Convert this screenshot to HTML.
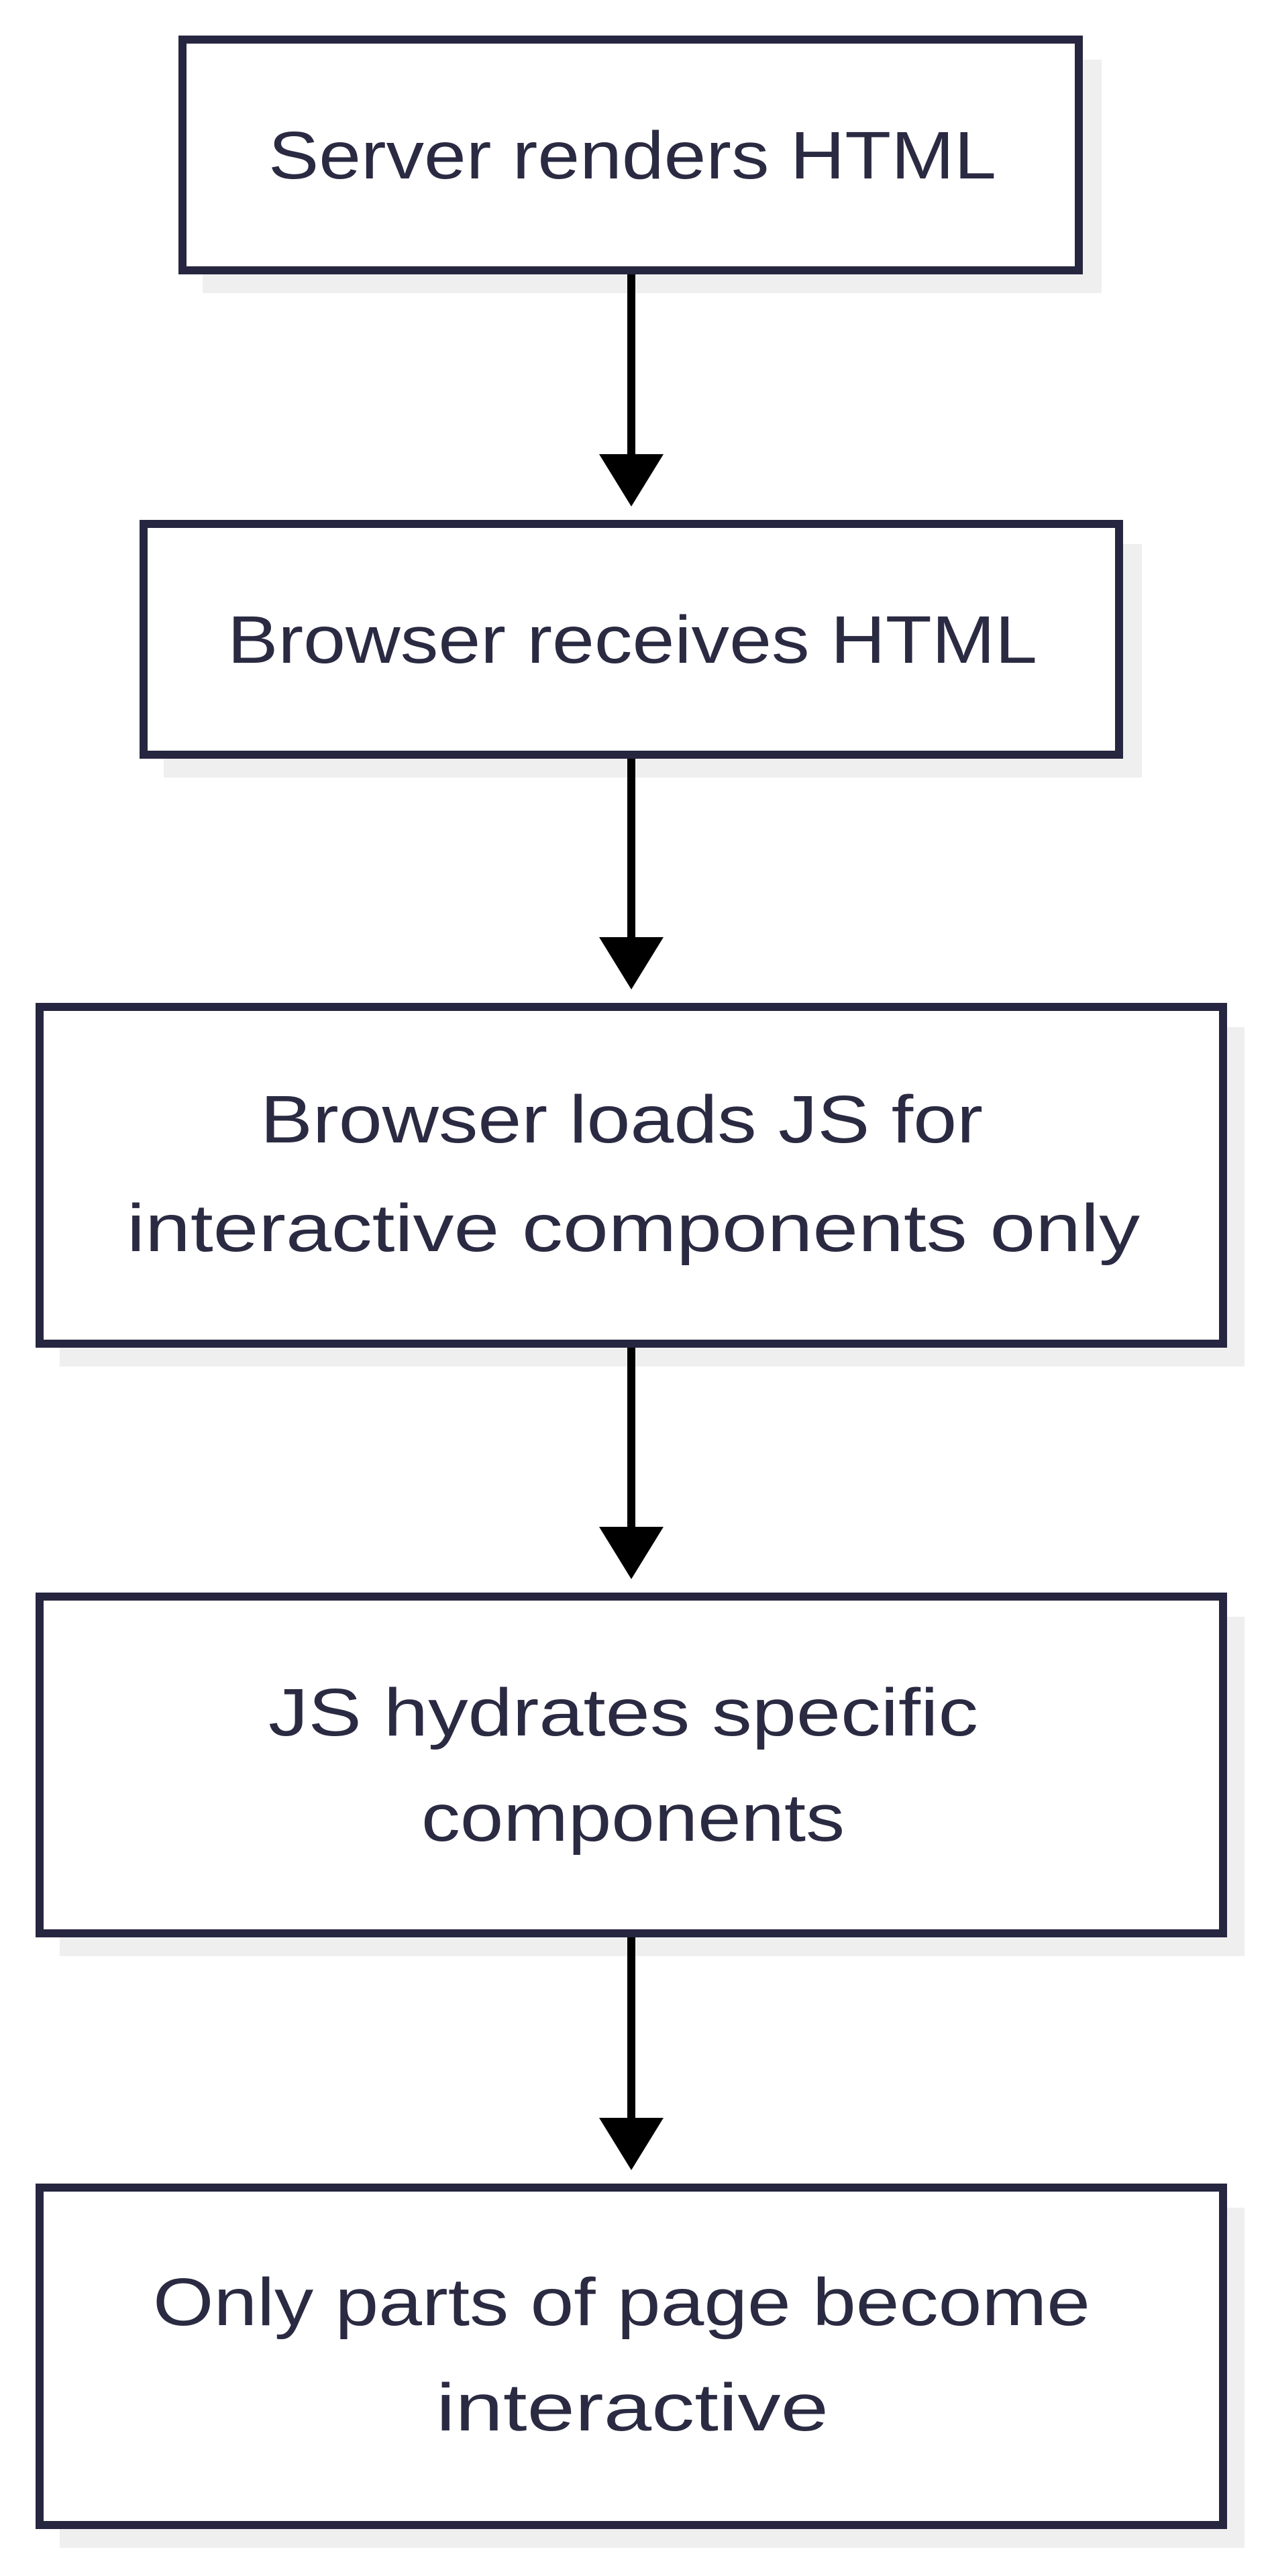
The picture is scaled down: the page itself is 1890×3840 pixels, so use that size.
<!DOCTYPE html>
<html><head><meta charset="utf-8"><style>html,body{margin:0;padding:0;background:#fff}svg{display:block}</style></head>
<body>
<svg width="1890" height="3840" viewBox="0 0 1890 3840" xmlns="http://www.w3.org/2000/svg">
<g fill="#efefef">
<rect x="302" y="89" width="1340" height="348"/>
<rect x="244" y="811" width="1458" height="348"/>
<rect x="89" y="1531" width="1766" height="506"/>
<rect x="89" y="2410" width="1766" height="506"/>
<rect x="89" y="3291" width="1766" height="507"/>
</g>
<g fill="#fff" stroke="#272640" stroke-width="12">
<rect x="272" y="59" width="1336" height="344"/>
<rect x="214" y="781" width="1454" height="344"/>
<rect x="59" y="1501" width="1764" height="502"/>
<rect x="59" y="2380" width="1764" height="502"/>
<rect x="59" y="3261" width="1764" height="503"/>
</g>
<g stroke="#000" stroke-width="12">
<line x1="941" y1="409" x2="941" y2="683"/>
<line x1="941" y1="1131" x2="941" y2="1403"/>
<line x1="941" y1="2009" x2="941" y2="2282"/>
<line x1="941" y1="2888" x2="941" y2="3163"/>
</g>
<g fill="#000">
<polygon points="893,677 989,677 941,755"/>
<polygon points="893,1397 989,1397 941,1475"/>
<polygon points="893,2276 989,2276 941,2354"/>
<polygon points="893,3157 989,3157 941,3235"/>
</g>
<g fill="#2a2a42" font-family="Liberation Sans, sans-serif" font-size="100">
<text x="400" y="266" textLength="1085" lengthAdjust="spacingAndGlyphs">Server renders HTML</text>
<text x="339" y="988" textLength="1207" lengthAdjust="spacingAndGlyphs">Browser receives HTML</text>
<text x="388" y="1703" textLength="1077" lengthAdjust="spacingAndGlyphs">Browser loads JS for</text>
<text x="189" y="1865" textLength="1510" lengthAdjust="spacingAndGlyphs">interactive components only</text>
<text x="400" y="2587" textLength="1058" lengthAdjust="spacingAndGlyphs">JS hydrates specific</text>
<text x="628" y="2744" textLength="631" lengthAdjust="spacingAndGlyphs">components</text>
<text x="228" y="3466" textLength="1397" lengthAdjust="spacingAndGlyphs">Only parts of page become</text>
<text x="650" y="3623" textLength="585" lengthAdjust="spacingAndGlyphs">interactive</text>
</g>
</svg>
</body></html>
